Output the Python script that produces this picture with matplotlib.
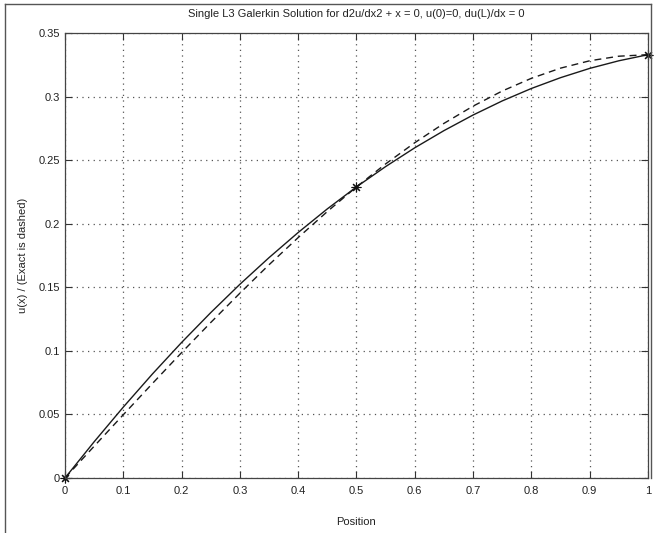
import numpy as np
import matplotlib
matplotlib.use("Agg")
import matplotlib.pyplot as plt
from matplotlib.lines import Line2D

# Positions sampled along the bar
position = [0.0, 0.05, 0.1, 0.15, 0.2, 0.25, 0.3, 0.35, 0.4, 0.45, 0.5,
            0.55, 0.6, 0.65, 0.7, 0.75, 0.8, 0.85, 0.9, 0.95, 1.0]

# Galerkin (solid) and exact (dashed) values
u_galerkin = [0.0, 0.0285, 0.0558, 0.0819, 0.1067, 0.1302, 0.1525, 0.1735,
              0.1933, 0.2119, 0.2292, 0.2452, 0.2600, 0.2735, 0.2858, 0.2969,
              0.3067, 0.3152, 0.3225, 0.3285, 0.3333]
u_exact = [0.0, 0.0250, 0.0498, 0.0744, 0.0987, 0.1224, 0.1455, 0.1679,
           0.1893, 0.2098, 0.2292, 0.2473, 0.2640, 0.2792, 0.2928, 0.3047,
           0.3147, 0.3227, 0.3285, 0.3321, 0.3333]

# Element nodes
node_x = [0.0, 0.5, 1.0]
node_u = [0.0, 0.2292, 0.3333]

x_ticks = [0, 0.1, 0.2, 0.3, 0.4, 0.5, 0.6, 0.7, 0.8, 0.9, 1]
x_labels = ["0", "0.1", "0.2", "0.3", "0.4", "0.5", "0.6", "0.7", "0.8", "0.9", "1"]
y_ticks = [0, 0.05, 0.1, 0.15, 0.2, 0.25, 0.3, 0.35]
y_labels = ["0", "0.05", "0.1", "0.15", "0.2", "0.25", "0.3", "0.35"]

plt.rcParams['font.family'] = ['Liberation Sans', 'DejaVu Sans']
plt.rcParams['font.size'] = 8

fig = plt.figure(figsize=(6.59, 5.33), dpi=100)
ax = fig.add_axes([0.0986, 0.1032, 0.8847, 0.834])

ax.plot(position, u_galerkin, color='#1a1a1a', linewidth=1.0)
ax.plot(position, u_exact, color='#1a1a1a', linewidth=1.0, linestyle=(0, (5, 3.5)))
ax.plot(node_x, node_u, linestyle='none', marker=(8, 2, 0), color='#111111',
        markersize=7, markeredgewidth=0.8, clip_on=False)

ax.set_xlim(0, 1)
ax.set_ylim(0, 0.35)
ax.set_xticks(x_ticks)
ax.set_xticklabels(x_labels)
ax.set_yticks(y_ticks)
ax.set_yticklabels(y_labels)
ax.tick_params(axis='x', pad=6)
ax.tick_params(direction='in', length=5, width=0.8, top=True, right=True,
               colors='#333333', labelcolor='#222222')
ax.grid(True, color='#555555', linestyle=(0, (1, 3.5)), linewidth=0.9)
for s in ax.spines.values():
    s.set_color('#444444')
    s.set_linewidth(0.9)

ax.set_title("Single L3 Galerkin Solution for d2u/dx2 + x = 0, u(0)=0, du(L)/dx = 0",
             fontsize=8, color='#222222', pad=12)
ax.set_xlabel("Position", fontsize=8, color='#222222', labelpad=15)
ax.set_ylabel("u(x) / (Exact is dashed)", fontsize=8, color='#222222', labelpad=8)

# outer frame around the figure
fx0, fx1 = 5 / 659, 651 / 659
fy1 = 1 - 4 / 533
frame_kw = dict(color='#555555', linewidth=1.0, transform=fig.transFigure)
fig.add_artist(Line2D([fx0, fx0], [0, fy1], **frame_kw))
fig.add_artist(Line2D([fx0, fx1], [fy1, fy1], **frame_kw))
fig.add_artist(Line2D([fx1, fx1], [fy1, 0.1032], **frame_kw))

fig.savefig("out.png", dpi=100)
